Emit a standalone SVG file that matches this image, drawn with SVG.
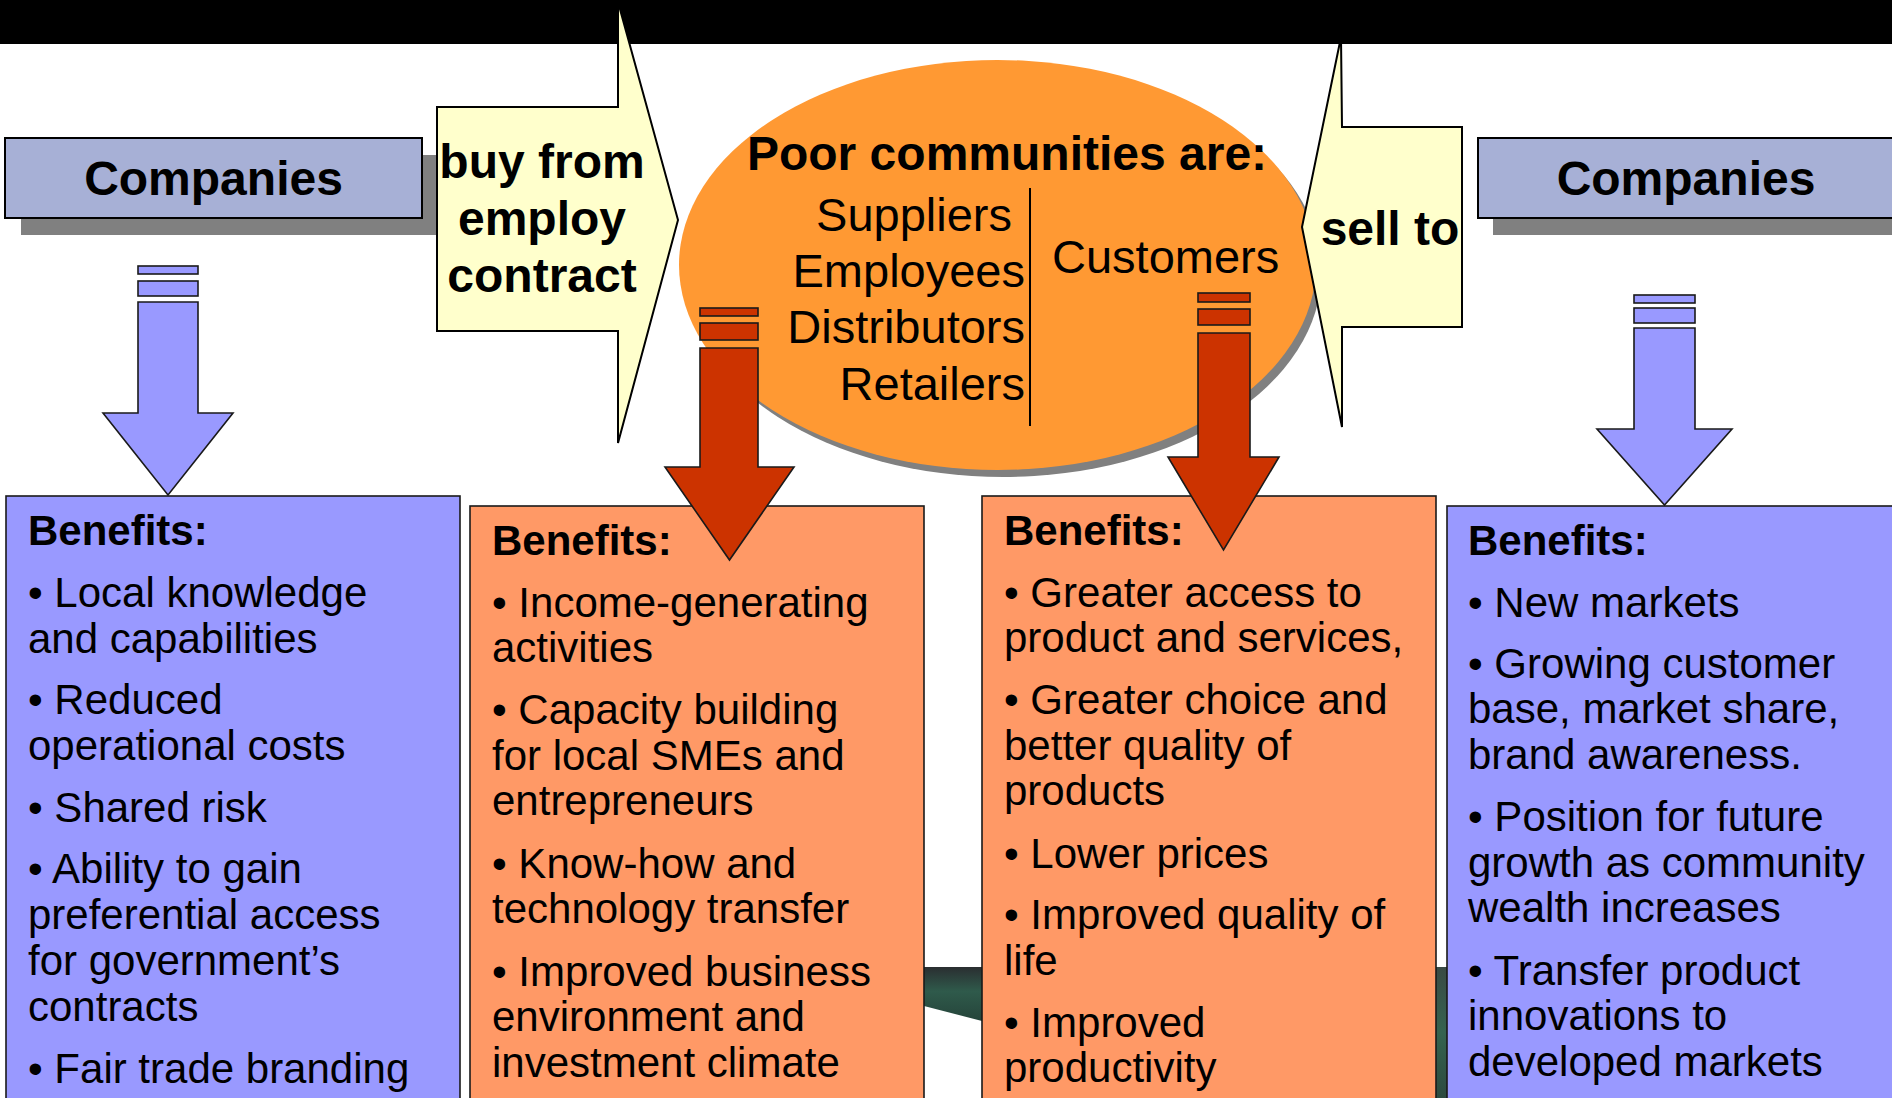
<svg xmlns="http://www.w3.org/2000/svg" width="1892" height="1098" viewBox="0 0 1892 1098">
<style>
.t{font-family:"Liberation Sans",Arial,Helvetica,sans-serif;fill:#000}
.hb{font-size:48px;font-weight:bold}
.r47{font-size:47px}
.bb{font-size:42px;font-weight:bold}
.r42{font-size:42px}
.edge{stroke:#000;stroke-width:2;stroke-linejoin:miter}
.thin{stroke:#1a1a1a;stroke-width:1.6}
.shadow{fill:#808080}
.comp{fill:#A7B0D6}
.yel{fill:#FFFFCC}
.blue{fill:#9999FF}
.org{fill:#FF9966}
.red{fill:#CC3300}
</style>
<defs>
<linearGradient id="photo" x1="0" y1="0" x2="0" y2="1">
<stop offset="0" stop-color="#2a2e31"/>
<stop offset="0.45" stop-color="#2f5a4b"/>
<stop offset="1" stop-color="#25443a"/>
</linearGradient>
<linearGradient id="photo2" x1="0" y1="0" x2="0" y2="1">
<stop offset="0" stop-color="#3a4a45"/>
<stop offset="0.5" stop-color="#35634f"/>
<stop offset="1" stop-color="#2c4a3f"/>
</linearGradient>
</defs>
<rect width="1892" height="1098" fill="#FFFFFF"/>
<rect x="0" y="0" width="1892" height="44" fill="#000"/>
<g id="background-photo">
<polygon points="924,967 982,967 982,1021 924,1006" fill="url(#photo)"/>
<rect x="1436" y="967" width="11" height="131" fill="url(#photo2)"/>
</g>
<g id="companies-left">
<rect class="shadow" x="21" y="155" width="416" height="80"/>
<rect class="comp edge" x="5" y="138" width="417" height="80"/>
<text class="t hb" x="213.5" y="195" text-anchor="middle">Companies</text>
</g>
<g id="companies-right">
<rect class="shadow" x="1493" y="155" width="420" height="80"/>
<rect class="comp edge" x="1478" y="138" width="430" height="80"/>
<text class="t hb" x="1686" y="195" text-anchor="middle">Companies</text>
</g>
<g id="buy-arrow">
<polygon class="yel edge" points="437,107 618,107 618,2 678,220 618,443 618,331 437,331"/>
<text class="t hb" x="542" y="178" text-anchor="middle">buy from</text>
<text class="t hb" x="542" y="235" text-anchor="middle">employ</text>
<text class="t hb" x="542" y="292" text-anchor="middle">contract</text>
</g>
<g id="poor-communities">
<ellipse class="shadow" cx="1003" cy="272" rx="318.5" ry="205"/>
<ellipse cx="997.5" cy="265" rx="318.5" ry="205" fill="#FF9933"/>
<text class="t hb" x="1007" y="170" text-anchor="middle">Poor communities are:</text>
<text class="t r47" x="1012" y="231" text-anchor="end">Suppliers</text>
<text class="t r47" x="1025" y="287" text-anchor="end">Employees</text>
<text class="t r47" x="1025" y="343" text-anchor="end">Distributors</text>
<text class="t r47" x="1025" y="400" text-anchor="end">Retailers</text>
<line x1="1030" y1="188" x2="1030" y2="426" stroke="#000" stroke-width="2"/>
<text class="t r47" x="1052" y="273">Customers</text>
</g>
<g id="sell-arrow">
<polygon class="yel edge" points="1462,127 1342,127 1341,37 1302,227 1342,427 1342,327 1462,327"/>
<text class="t hb" x="1390" y="245" text-anchor="middle">sell to</text>
</g>
<g id="benefits-companies-left">
<rect class="blue thin" x="6" y="496" width="454" height="640"/>
<text class="t bb" x="28" y="545">Benefits:</text>
<text class="t r42" x="28" y="607">• Local knowledge</text>
<text class="t r42" x="28" y="653">and capabilities</text>
<text class="t r42" x="28" y="714">• Reduced</text>
<text class="t r42" x="28" y="760">operational costs</text>
<text class="t r42" x="28" y="822">• Shared risk</text>
<text class="t r42" x="28" y="883">• Ability to gain</text>
<text class="t r42" x="28" y="929">preferential access</text>
<text class="t r42" x="28" y="975">for government’s</text>
<text class="t r42" x="28" y="1021">contracts</text>
<text class="t r42" x="28" y="1083">• Fair trade branding</text>
</g>
<g id="benefits-suppliers">
<rect class="org thin" x="470" y="506" width="454" height="640"/>
<text class="t bb" x="492" y="555">Benefits:</text>
<text class="t r42" x="492" y="617">• Income-generating</text>
<text class="t r42" x="492" y="662">activities</text>
<text class="t r42" x="492" y="724">• Capacity building</text>
<text class="t r42" x="492" y="770">for local SMEs and</text>
<text class="t r42" x="492" y="815">entrepreneurs</text>
<text class="t r42" x="492" y="878">• Know-how and</text>
<text class="t r42" x="492" y="923">technology transfer</text>
<text class="t r42" x="492" y="986">• Improved business</text>
<text class="t r42" x="492" y="1031">environment and</text>
<text class="t r42" x="492" y="1077">investment climate</text>
</g>
<g id="benefits-customers">
<rect class="org thin" x="982" y="496" width="454" height="640"/>
<text class="t bb" x="1004" y="545">Benefits:</text>
<text class="t r42" x="1004" y="607">• Greater access to</text>
<text class="t r42" x="1004" y="652">product and services,</text>
<text class="t r42" x="1004" y="714">• Greater choice and</text>
<text class="t r42" x="1004" y="760">better quality of</text>
<text class="t r42" x="1004" y="805">products</text>
<text class="t r42" x="1004" y="868">• Lower prices</text>
<text class="t r42" x="1004" y="929">• Improved quality of</text>
<text class="t r42" x="1004" y="975">life</text>
<text class="t r42" x="1004" y="1037">• Improved</text>
<text class="t r42" x="1004" y="1082">productivity</text>
</g>
<g id="benefits-companies-right">
<rect class="blue thin" x="1447" y="506" width="460" height="640"/>
<text class="t bb" x="1468" y="555">Benefits:</text>
<text class="t r42" x="1468" y="617">• New markets</text>
<text class="t r42" x="1468" y="678">• Growing customer</text>
<text class="t r42" x="1468" y="723">base, market share,</text>
<text class="t r42" x="1468" y="769">brand awareness.</text>
<text class="t r42" x="1468" y="831">• Position for future</text>
<text class="t r42" x="1468" y="877">growth as community</text>
<text class="t r42" x="1468" y="922">wealth increases</text>
<text class="t r42" x="1468" y="985">• Transfer product</text>
<text class="t r42" x="1468" y="1030">innovations to</text>
<text class="t r42" x="1468" y="1076">developed markets</text>
</g>
<g id="connectors">
<g id="arrow-companies-left">
<rect class="blue thin" x="138" y="266" width="60" height="8"/>
<rect class="blue thin" x="138" y="281" width="60" height="15"/>
<polygon class="blue thin" points="138,302 198,302 198,413 233,413 168,495 103,413 138,413"/>
</g>
<g id="arrow-companies-right">
<rect class="blue thin" x="1634" y="295" width="61" height="8"/>
<rect class="blue thin" x="1634" y="308" width="61" height="15"/>
<polygon class="blue thin" points="1634,328 1695,328 1695,429 1732,429 1664.5,505 1597,429 1634,429"/>
</g>
<g id="arrow-suppliers">
<rect class="red thin" x="700" y="308" width="58" height="8"/>
<rect class="red thin" x="700" y="323" width="58" height="17"/>
<polygon class="red thin" points="700,348 758,348 758,467 794,467 729.5,560 665,467 700,467"/>
</g>
<g id="arrow-customers">
<rect class="red thin" x="1198" y="293" width="52" height="9"/>
<rect class="red thin" x="1198" y="309" width="52" height="16"/>
<polygon class="red thin" points="1198,333 1250,333 1250,457 1279,457 1223.5,550 1168,457 1198,457"/>
</g>
</g>
</svg>
